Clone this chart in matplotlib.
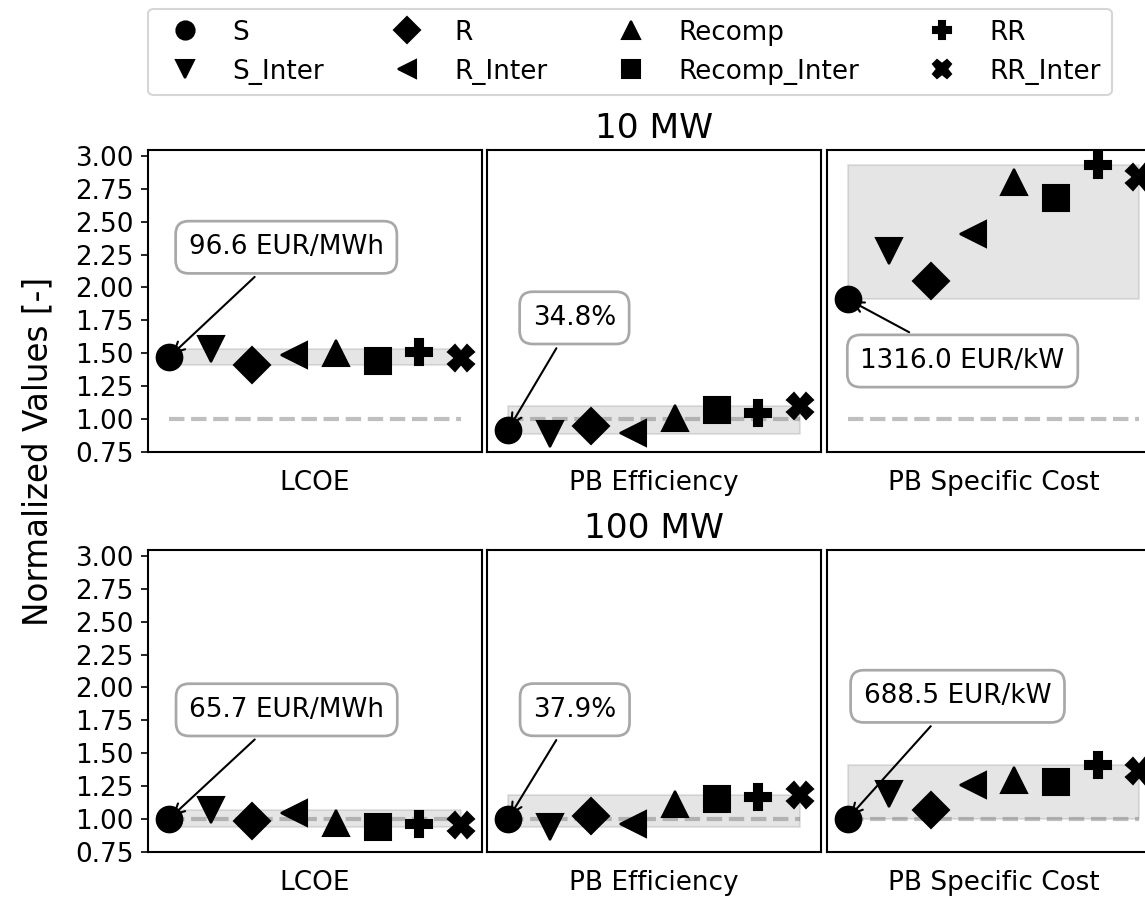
import matplotlib
matplotlib.use('Agg')
import matplotlib.pyplot as plt
from matplotlib.lines import Line2D

# ---------------- data ----------------
configs = ['S', 'S_Inter', 'R', 'R_Inter', 'Recomp', 'Recomp_Inter', 'RR', 'RR_Inter']
metrics = ['LCOE', 'PB Efficiency', 'PB Specific Cost']
plant_sizes = ['10 MW', '100 MW']

# normalized values (reference: S configuration at 100 MW)
lcoe_10 = [1.470, 1.530, 1.408, 1.483, 1.500, 1.438, 1.505, 1.461]
eff_10 = [0.918, 0.883, 0.947, 0.896, 1.008, 1.068, 1.045, 1.100]
cost_10 = [1.911, 2.277, 2.050, 2.404, 2.803, 2.680, 2.930, 2.838]

lcoe_100 = [1.000, 1.066, 0.984, 1.046, 0.970, 0.940, 0.957, 0.950]
eff_100 = [1.000, 0.937, 1.022, 0.957, 1.116, 1.149, 1.167, 1.182]
cost_100 = [1.000, 1.190, 1.068, 1.254, 1.298, 1.283, 1.406, 1.365]

labels_10 = ['96.6 EUR/MWh', '34.8%', '1316.0 EUR/kW']
labels_100 = ['65.7 EUR/MWh', '37.9%', '688.5 EUR/kW']

yticks = [0.75, 1.00, 1.25, 1.50, 1.75, 2.00, 2.25, 2.50, 2.75, 3.00]

# ---------------- styling ----------------
markers = ['o', 'v', 'D', '<', '^', 's', 'P', 'X']
text_pos_10 = [(2.81, 2.305), (1.59, 1.768), (2.76, 1.44)]
text_pos_100 = [(2.82, 1.829), (1.60, 1.830), (2.64, 1.932)]

FS = 12.6
plt.rcParams['font.family'] = ['DejaVu Sans']
plt.rcParams['font.size'] = FS
plt.rcParams['axes.linewidth'] = 1.0

W, H = 1145, 899
DPI = 150
fig = plt.figure(figsize=(W / DPI, H / DPI), dpi=DPI)

lefts = [148.3, 487.3, 826.7]
ax_w = 333.4
rows = [(150.0, 451.7), (550.0, 851.7)]

data = [[lcoe_10, eff_10, cost_10], [lcoe_100, eff_100, cost_100]]
labels = [labels_10, labels_100]
tpos = [text_pos_10, text_pos_100]

x = list(range(len(configs)))

for r, (top, bot) in enumerate(rows):
    for c, left in enumerate(lefts):
        ax = fig.add_axes([left / W, 1 - bot / H, ax_w / W, (bot - top) / H])
        vals = data[r][c]
        lo, hi = min(vals), max(vals)
        ax.fill_between([x[0], x[-1]], [lo, lo], [hi, hi], color='gray', alpha=0.2, zorder=1)
        ax.plot([x[0], x[-1]], [1, 1], ls='--', color='gray', alpha=0.5, lw=2, zorder=2)
        for xi, v, m in zip(x, vals, markers):
            ax.plot(xi, v, marker=m, ls='none', color='black', ms=12.3, zorder=3, clip_on=False)
        ax.annotate(labels[r][c], xy=(x[0], vals[0]), xytext=tpos[r][c], textcoords='data',
                    ha='center', va='center', fontsize=FS,
                    bbox=dict(boxstyle='round,pad=0.5', fc='white', ec='#a8a8a8', lw=1.3),
                    arrowprops=dict(arrowstyle='->', color='black', lw=1.0), zorder=4)
        ax.set_xlim(-0.5, len(configs) - 0.5)
        ax.set_ylim(0.75, 3.045)
        ax.set_xticks([])
        ax.set_xlabel(metrics[c], fontsize=FS, labelpad=9)
        if c == 0:
            ax.set_yticks(yticks)
            ax.set_yticklabels([f'{t:.2f}' for t in yticks])
        else:
            ax.set_yticks(yticks)
            ax.tick_params(left=False, labelleft=False)
        if c == 1:
            ax.set_title(plant_sizes[r], fontsize=16.5, pad=6)

fig.text(0.019, 1 - 451.5 / H, 'Normalized Values [-]', rotation=90, ha='left', va='center',
         fontsize=15.7)

handles = [Line2D([], [], marker=m, ls='none', color='black', ms=8.7, label=cfg)
           for m, cfg in zip(markers, configs)]
fig.legend(handles=handles, ncol=4, loc='upper left',
           bbox_to_anchor=(148.3 / W, 0, (1111.7 - 148.3) / W, 1 - 9 / H),
           mode='expand', borderaxespad=0, fontsize=FS)

fig.savefig('out.png', dpi=DPI)
